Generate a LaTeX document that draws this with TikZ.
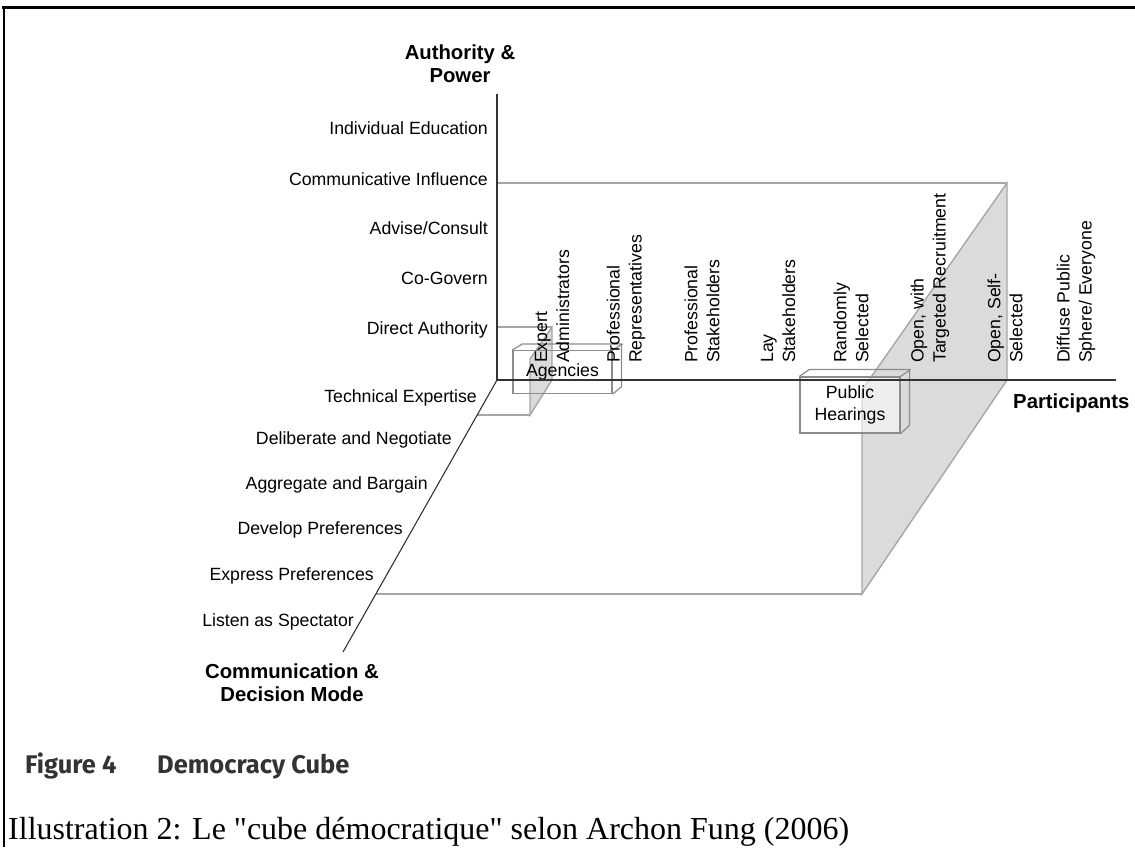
\documentclass[tikz,border=0pt]{standalone}
\usepackage{fontspec}
\usepackage{tikz}
\newfontfamily\arialfont{Liberation Sans}
\newfontfamily\timesfont{Liberation Serif}
\newfontfamily\capfont{Fira Sans}
\newcommand{\lblfont}{\arialfont\fontsize{17.7}{22}\selectfont}
\newcommand{\axfont}{\arialfont\bfseries\fontsize{20.3}{23}\selectfont}
\tikzstyle{axis}=[draw=black!80,line width=1.1pt]
\tikzstyle{cubeline}=[draw=black!35,line width=1.4pt]
\tikzstyle{cubeface}=[fill=black!14,draw=black!35,line width=1.4pt]
\tikzstyle{boxline}=[draw=black!45,line width=1.2pt]
\tikzstyle{lbl}=[font=\lblfont,anchor=base east,inner sep=0pt]
\tikzstyle{part}=[font=\lblfont,rotate=90,anchor=west,align=left,inner sep=0pt]
\tikzstyle{axname}=[font=\axfont,align=center,inner sep=0pt]
\tikzstyle{figcap}=[font=\capfont\bfseries\fontsize{25.5}{28}\selectfont,text=black!80,anchor=base west,inner sep=0pt]

\begin{document}
\begin{tikzpicture}[x=1pt,y=-1pt]
        \useasboundingbox (0,0) rectangle (1135,847);
        % frame
        \draw[line width=3pt] (2,7) -- (1135,7);
        \draw[line width=2.5pt] (4,7) -- (4,847);

        \coordinate (o) at (497,380);
        \coordinate (ytop) at (497,94);
        \coordinate (xend) at (1116,380);
        \coordinate (zend) at (343,652);

        % big cube
        \coordinate (bl) at (497,183);
        \coordinate (bt) at (1007,183);
        \coordinate (bb) at (1007,380);
        \coordinate (fb) at (862,594);
        \coordinate (ft) at (862,390);
        \coordinate (fl) at (376,594);
        \filldraw[cubeface] (bt) -- (bb) -- (fb) -- (ft) -- cycle;
        \draw[cubeline] (bl) -- (bt);
        \draw[cubeline] (fl) -- (fb);

        % small cube
        \coordinate (sbl) at (497,327);
        \coordinate (sbt) at (552,327);
        \coordinate (sbb) at (552,380);
        \coordinate (sfb) at (530,415);
        \coordinate (sft) at (530,359);
        \coordinate (sfl) at (477,415);
        \filldraw[cubeface] (sbt) -- (sbb) -- (sfb) -- (sft) -- cycle;
        \draw[cubeline] (sbl) -- (sbt);
        \draw[cubeline] (sfl) -- (sfb);

        % boxes
        \node[boxline,font=\lblfont,minimum width=99pt,minimum height=43pt,inner sep=0pt] (agencies) at (562.5,372) {Agencies};
        \draw[boxline] (agencies.north west) -- ++(10,-6) -- ++(99,0) -- ++(0,43) -- (agencies.south east);
        \draw[boxline] (agencies.north east) -- ++(10,-6);
        \node[boxline,fill=white,fill opacity=0.55,text opacity=1,font=\lblfont,align=center,minimum width=100pt,minimum height=56pt,inner sep=0pt] (hearings) at (850,405) {Public\\Hearings};
        \draw[boxline] (hearings.north west) -- ++(10,-7) -- ++(100,0) -- ++(0,56) -- (hearings.south east);
        \draw[boxline] (hearings.north east) -- ++(10,-7);

        % axes
        \draw[axis] (ytop) -- (o);
        \draw[axis] (o) -- (xend);
        \draw[axis] (o) -- (zend);

        \node[axname] (power) at (460,64) {Authority \&\\Power};
        \node[axname,anchor=west] (participants) at (1013,403) {Participants};
        \node[axname] (mode) at (292,683) {Communication \&\\Decision Mode};

        \node[lbl] (educ) at (488,134) {Individual Education};
        \node[lbl] (influ) at (488,185) {Communicative Influence};
        \node[lbl] (advise) at (488,234) {Advise/Consult};
        \node[lbl] (gov) at (488,284) {Co-Govern};
        \node[lbl] (direct) at (488,334) {Direct Authority};
        \node[lbl] (tech) at (477,402) {Technical Expertise};
        \node[lbl] (delib) at (452,444) {Deliberate and Negotiate};
        \node[lbl] (aggr) at (428,489) {Aggregate and Bargain};
        \node[lbl] (devel) at (403,534) {Develop Preferences};
        \node[lbl] (expr) at (374,580) {Express Preferences};
        \node[lbl] (listen) at (354,626) {Listen as Spectator};

        \node[part] (expert) at (552,363) {Expert\\Administrators};
        \node[part] (profrep) at (626,363) {Professional\\Representatives};
        \node[part] (profst) at (702,363) {Professional\\Stakeholders};
        \node[part] (lay) at (778,363) {Lay\\Stakeholders};
        \node[part] (random) at (851,363) {Randomly\\Selected};
        \node[part] (target) at (930,363) {Open, with\\Targeted Recruitment};
        \node[part] (self) at (1005,363) {Open, Self-\\Selected};
        \node[part] (diffuse) at (1076,363) {Diffuse Public\\Sphere/ Everyone};

        % captions
        \node[figcap] (fig) at (25,773) {Figure 4};
        \node[figcap] (figname) at (157,773) {Democracy Cube};
        \node[font=\timesfont\fontsize{32}{36}\selectfont,anchor=base west,inner sep=0pt] (illus) at (8,839) {Illustration 2: Le "cube démocratique" selon Archon Fung (2006)};
\end{tikzpicture}
\end{document}
